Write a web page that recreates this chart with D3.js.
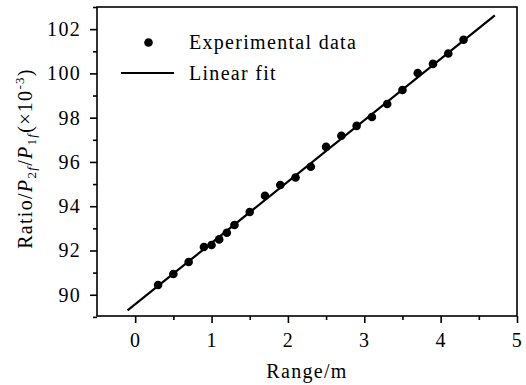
<!DOCTYPE html>
<html>
<head>
<meta charset="utf-8">
<script src="https://cdn.jsdelivr.net/npm/d3@7"></script>
<style>
  body { margin: 0; background: #fff; }
  text { font-family: "Liberation Serif", "Times New Roman", serif; fill: #000; letter-spacing: 1.3px; }
</style>
</head>
<body>
<script>
"use strict";

// measured range (m) and ratio (x10^-3)
var rangeM = [0.3, 0.5, 0.7, 0.9, 1.0, 1.1, 1.2, 1.3, 1.5, 1.7, 1.9, 2.1, 2.3, 2.5, 2.7, 2.9, 3.1, 3.3, 3.5, 3.7, 3.9, 4.1, 4.3];
var ratio = [90.44, 90.94, 91.48, 92.16, 92.25, 92.5, 92.8, 93.15, 93.74, 94.47, 94.96, 95.3, 95.78, 96.68, 97.18, 97.63, 98.03, 98.62, 99.25, 100.02, 100.43, 100.9, 101.52];

// fitted line end points
var fitX = [-0.1, 4.71];
var fitY = [89.29, 102.62];

var xTicks = [0, 1, 2, 3, 4, 5];
var yTicks = [90, 92, 94, 96, 98, 100, 102];

var margin = {top: 7, right: 9, bottom: 69, left: 97},
    width = 526 - margin.left - margin.right,
    height = 385 - margin.top - margin.bottom;

var svg = d3.select("body").append("svg")
    .attr("width", 526)
    .attr("height", 385);

var view = svg.append("g")
    .attr("transform", "translate(" + margin.left + "," + margin.top + ")");

var xScale = d3.scaleLinear().domain([-0.5, 5]).range([0, width]);
var yScale = d3.scaleLinear().domain([89.04, 103.0]).range([height, 0]);

// minor ticks at half steps
var xMinor = d3.range(0.5, 5, 1);
var yMinor = d3.range(89, 103.5, 2);

var xAxis = d3.axisBottom(xScale).tickValues(xTicks).tickSizeInner(7).tickSizeOuter(0).tickPadding(10).tickFormat(d3.format("d"));
var xAxisMinor = d3.axisBottom(xScale).tickValues(xMinor).tickSizeInner(4).tickSizeOuter(0).tickFormat("");
var yAxis = d3.axisLeft(yScale).tickValues(yTicks).tickSizeInner(7).tickSizeOuter(0).tickPadding(9).tickFormat(d3.format("d"));
var yAxisMinor = d3.axisLeft(yScale).tickValues(yMinor).tickSizeInner(4).tickSizeOuter(0).tickFormat("");

function styleAxis(g){
  g.select(".domain").remove();
  g.selectAll("line").attr("stroke", "#000").attr("stroke-width", 1.6);
  g.selectAll("text").style("font-family", '"Liberation Serif", serif').attr("font-size", 20).attr("fill", "#000");
}

view.append("g").attr("transform", "translate(0," + height + ")").call(xAxis).call(styleAxis);
view.append("g").attr("transform", "translate(0," + height + ")").call(xAxisMinor).call(styleAxis);
view.append("g").call(yAxis).call(styleAxis);
view.append("g").call(yAxisMinor).call(styleAxis);

// frame
view.append("rect")
    .attr("width", width)
    .attr("height", height)
    .attr("fill", "none")
    .attr("stroke", "#000")
    .attr("stroke-width", 1.6);

// fit line
var line = d3.line()
    .x(function(d){ return xScale(d[0]); })
    .y(function(d){ return yScale(d[1]); });

view.append("path")
    .datum(d3.zip(fitX, fitY))
    .attr("d", line)
    .attr("fill", "none")
    .attr("stroke", "#000")
    .attr("stroke-width", 2.2);

// data points
view.selectAll(".pt")
    .data(d3.zip(rangeM, ratio))
  .enter().append("circle")
    .attr("class", "pt")
    .attr("cx", function(d){ return xScale(d[0]); })
    .attr("cy", function(d){ return yScale(d[1]); })
    .attr("r", 4.3)
    .attr("fill", "#000");

// legend
var legend = svg.append("g");
legend.append("circle").attr("cx", 148.5).attr("cy", 42.5).attr("r", 4.3).attr("fill", "#000");
legend.append("text").attr("x", 189).attr("y", 49).attr("font-size", 20).text("Experimental data");
legend.append("line").attr("x1", 121).attr("x2", 174).attr("y1", 73).attr("y2", 73)
    .attr("stroke", "#000").attr("stroke-width", 2.2);
legend.append("text").attr("x", 189).attr("y", 80).attr("font-size", 20).text("Linear fit");

// axis titles
svg.append("text")
    .attr("x", margin.left + xScale(2.25))
    .attr("y", 378)
    .attr("text-anchor", "middle")
    .attr("font-size", 20)
    .text("Range/m");

var yTitle = svg.append("text")
    .attr("transform", "translate(32," + (margin.top + height / 2 - 3) + ") rotate(-90)")
    .attr("text-anchor", "middle")
    .attr("font-size", 20);
yTitle.append("tspan").text("Ratio/");
yTitle.append("tspan").attr("font-style", "italic").text("P");
yTitle.append("tspan").attr("font-size", 13).attr("dy", 4).text("2");
yTitle.append("tspan").attr("font-size", 13).attr("font-style", "italic").text("f");
yTitle.append("tspan").attr("dy", -4).text("/");
yTitle.append("tspan").attr("font-style", "italic").text("P");
yTitle.append("tspan").attr("font-size", 13).attr("dy", 4).text("1");
yTitle.append("tspan").attr("font-size", 13).attr("font-style", "italic").text("f");
yTitle.append("tspan").attr("dy", -4).text("(\u00d710");
yTitle.append("tspan").attr("font-size", 13).attr("dy", -8).text("-3");
yTitle.append("tspan").attr("dy", 8).text(")");
</script>
</body>
</html>
